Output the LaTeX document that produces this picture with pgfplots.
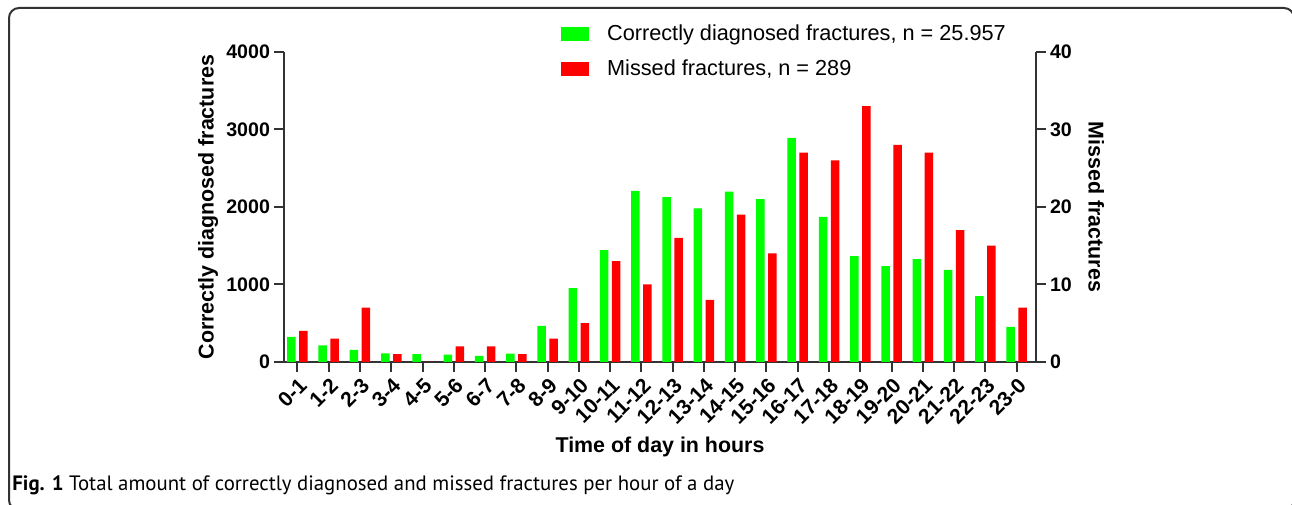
\documentclass[border=0pt]{standalone}
\usepackage{pgfplots}
\pgfplotsset{compat=1.18}
\usepackage{fontspec}
\setmainfont{Liberation Sans}
\newfontfamily\capfont{PT Sans}
\definecolor{barg}{HTML}{00FF00}
\definecolor{barr}{HTML}{FF0000}
\definecolor{axgray}{HTML}{333333}

% 1 px of the reference = 0.5pt
\newcommand\labfont{\fontsize{10.7}{12}\selectfont\bfseries}
\pgfplotsset{
  hourbase/.style={
    at={(142pt,71pt)}, anchor=south west,
    scale only axis, width=376pt, height=155pt,
    xmin=-0.43, xmax=23.62,
    ymin=0,
    ybar, bar width=4.25pt,
    axis line style={axgray, line width=1pt},
    tick style={axgray, line width=1pt},
    major tick length=5pt,
    tick align=outside,
    /pgf/number format/assume math mode=true,
    /pgf/number format/1000 sep={},
    ticklabel style={font=\fontsize{9.8}{11}\selectfont\bfseries},
  },
}

\begin{document}
\begin{tikzpicture}
\useasboundingbox (0,0) rectangle (646pt,252pt);
\draw[axgray, line width=1pt, rounded corners=5pt] (4.5pt,-3pt) rectangle (647pt,248pt);

\begin{axis}[hourbase,
  axis y line*=left, axis x line*=bottom,
  ymax=4000, ytick={0,1000,2000,3000,4000},
  yticklabel style={xshift=1.5pt},
  xtick={0,...,23},
  xticklabels={0-1,1-2,2-3,3-4,4-5,5-6,6-7,7-8,8-9,9-10,10-11,11-12,12-13,13-14,14-15,15-16,16-17,17-18,18-19,19-20,20-21,21-22,22-23,23-0},
  xticklabel style={rotate=45, anchor=east, xshift=2pt, yshift=-5.5pt, font=\fontsize{10.5}{12}\selectfont\bfseries},
  ylabel={Correctly diagnosed fractures},
  every axis y label/.style={at={(axis description cs:-0.101,0.5)}, rotate=90, anchor=center, font=\labfont},
  xlabel={Time of day in hours},
  every axis x label/.style={at={(axis description cs:0.5,-0.275)}, anchor=center, font=\labfont},
]
\addplot[fill=barg, draw=none, bar shift=-3pt] coordinates {
  (0,323) (1,216) (2,155) (3,112) (4,103) (5,95) (6,78) (7,108)
  (8,465) (9,953) (10,1444) (11,2207) (12,2129) (13,1983) (14,2198)
  (15,2103) (16,2892) (17,1871) (18,1366) (19,1237) (20,1328)
  (21,1190) (22,849) (23,453)
};
\end{axis}

\begin{axis}[hourbase,
  axis y line*=right, axis x line=none,
  ymax=40, ytick={0,10,20,30,40},
  yticklabel style={xshift=-1.5pt},
  xtick=\empty,
  ylabel={Missed fractures},
  every axis y label/.style={at={(axis description cs:1.08,0.5)}, rotate=-90, anchor=center, font=\labfont},
  legend style={at={(axis description cs:0.36,1.115)}, anchor=north west,
    draw=none, fill=none, row sep=4pt,
    font=\fontsize{10.85}{12}\selectfont,
    nodes={inner sep=2pt}},
  legend cell align=left,
  legend image code/.code={\fill[#1] (0pt,-3.5pt) rectangle (14pt,3.5pt); \path (21pt,0pt);},
]
\addlegendimage{fill=barg, draw=none}
\addlegendentry{Correctly diagnosed fractures, n = 25.957}
\addplot[fill=barr, draw=none, bar shift=3pt] coordinates {
  (0,4) (1,3) (2,7) (3,1) (4,0) (5,2) (6,2) (7,1) (8,3) (9,5)
  (10,13) (11,10) (12,16) (13,8) (14,19) (15,14) (16,27) (17,26)
  (18,33) (19,28) (20,27) (21,17) (22,15) (23,7)
};
\addlegendentry{Missed fractures, n = 289}
\end{axis}

\node[anchor=base west, inner sep=0pt, font=\capfont\fontsize{10.4}{12}\selectfont]
  at (6pt,6.5pt) {\textbf{Fig. 1} Total amount of correctly diagnosed and missed fractures per hour of a day};
\end{tikzpicture}
\end{document}
